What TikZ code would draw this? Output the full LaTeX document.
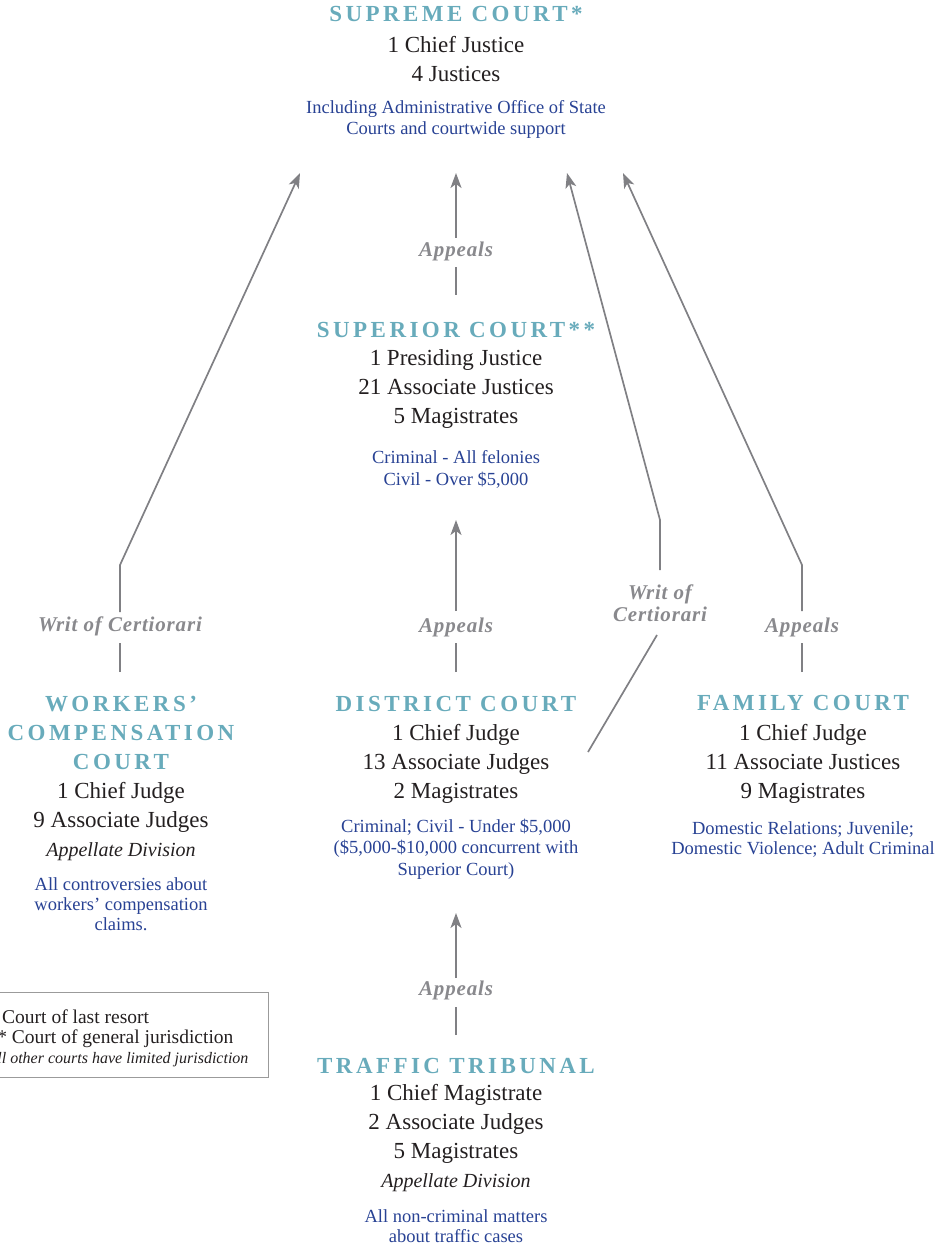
\documentclass[tikz,border=0pt]{standalone}
\usepackage{fontspec}
\setmainfont{Liberation Serif}
\newfontfamily\titlefont{Liberation Serif}[LetterSpace=15]
\newfontfamily\labfont{Liberation Serif}[LetterSpace=4]
\usetikzlibrary{arrows.meta}
\definecolor{courtteal}{RGB}{104,171,187}
\definecolor{courtblue}{RGB}{40,66,148}
\definecolor{labgray}{RGB}{137,137,141}
\definecolor{linegray}{RGB}{128,128,132}
\definecolor{inkblack}{RGB}{35,31,32}
\definecolor{legendgray}{RGB}{155,155,155}
\begin{document}
\begin{tikzpicture}[x=1pt,y=-1pt,
  ttl/.style={anchor=base, align=center, inner sep=0pt, text=courtteal,
    font=\titlefont\bfseries\fontsize{23}{29}\selectfont},
  staff/.style={anchor=base, align=center, inner sep=0pt, text=inkblack,
    font=\fontsize{23}{29}\selectfont},
  desc/.style={anchor=base, align=center, inner sep=0pt, text=courtblue,
    font=\fontsize{18.5}{21}\selectfont},
  lab/.style={anchor=base, align=center, inner sep=0pt, text=labgray,
    font=\labfont\bfseries\itshape\fontsize{21}{22}\selectfont},
  conn/.style={draw=linegray, line width=1.7pt, line join=round},
  arr/.style={conn, -{Stealth[length=15pt,width=11pt,inset=4pt]}},
  legbox/.style={draw=legendgray, line width=1pt, inner sep=0pt},
  legtext/.style={anchor=base west, align=left, inner sep=0pt, text=inkblack,
    font=\fontsize{19.5}{20}\selectfont},
]
\useasboundingbox (0,0) rectangle (948,1246);
\clip (0,0) rectangle (948,1246);

% (anchor=base of a multi-line node is the baseline of its last line)

% ---------- Supreme Court ----------
\node[ttl]   (supT) at (456,22)  {SUPREME COURT*};
\node[staff] (supS) at (456,82)  {1 Chief Justice\\4 Justices};
\node[desc]  (supD) at (456,135) {Including Administrative Office of State\\Courts and courtwide support};

% ---------- Superior Court ----------
\node[ttl]   (spT) at (456,337) {SUPERIOR COURT**};
\node[staff] (spS) at (456,423) {1 Presiding Justice\\21 Associate Justices\\5 Magistrates};
\node[desc, font=\fontsize{18.5}{22}\selectfont] (spD) at (456,485) {Criminal - All felonies\\Civil - Over \$5,000};

% ---------- Workers' Compensation Court ----------
\node[ttl]   (wcT) at (121,769) {WORKERS’\\COMPENSATION\\COURT};
\node[staff] (wcS) at (121,856) {1 Chief Judge\\9 Associate Judges\\{\itshape\fontsize{20}{28}\selectfont Appellate Division}};
\node[desc, font=\fontsize{18.5}{20}\selectfont] (wcD) at (121,930) {All controversies about\\workers’ compensation\\claims.};

% ---------- District Court ----------
\node[ttl]   (dcT) at (456,711) {DISTRICT COURT};
\node[staff] (dcS) at (456,798) {1 Chief Judge\\13 Associate Judges\\2 Magistrates};
\node[desc, font=\fontsize{18.5}{21.5}\selectfont] (dcD) at (456,875) {Criminal; Civil - Under \$5,000\\(\$5,000-\$10,000 concurrent with\\Superior Court)};

% ---------- Family Court ----------
\node[ttl]   (fcT) at (803,710) {FAMILY COURT};
\node[staff] (fcS) at (803,798) {1 Chief Judge\\11 Associate Justices\\9 Magistrates};
\node[desc, font=\fontsize{18.5}{20}\selectfont] (fcD) at (803,854) {Domestic Relations; Juvenile;\\Domestic Violence; Adult Criminal};

% ---------- Traffic Tribunal ----------
\node[ttl]   (ttT) at (456,1073) {TRAFFIC TRIBUNAL};
\node[staff] (ttS) at (456,1187) {1 Chief Magistrate\\2 Associate Judges\\5 Magistrates\\{\itshape\fontsize{20}{27}\selectfont Appellate Division}};
\node[desc, font=\fontsize{18.5}{20}\selectfont] (ttD) at (456,1242) {All non-criminal matters\\about traffic cases};

% ---------- Legend ----------
\node[legbox, minimum width=298pt, minimum height=85pt, anchor=north west] (leg) at (-30,992) {};
\node[legtext] (legT) at (-12.6,1063) {* Court of last resort\\** Court of general jurisdiction\\{\itshape\fontsize{16}{20}\selectfont All other courts have limited jurisdiction}};

% ---------- Connector labels ----------
\node[lab] (ap1) at (456,257) {Appeals};
\node[lab] (wl)  at (120,631) {Writ of Certiorari};
\node[lab] (rl)  at (660,621) {Writ of\\Certiorari};
\node[lab] (fl)  at (802,632) {Appeals};
\node[lab] (dl)  at (456,632) {Appeals};
\node[lab] (tl)  at (456,995) {Appeals};

% ---------- Connector points ----------
\coordinate (a1b) at (456,295);  \coordinate (a1a) at (456,267);
\coordinate (a1c) at (456,238);  \coordinate (a1t) at (456,173);
\coordinate (w0) at (120,672);   \coordinate (w1) at (120,643);
\coordinate (w2) at (120,612);   \coordinate (wk) at (120,565);
\coordinate (wt) at (300,173);
\coordinate (r0) at (588,752);   \coordinate (r1) at (657,635);
\coordinate (r2) at (660,570);   \coordinate (rk) at (660,520);
\coordinate (rt) at (567,173);
\coordinate (f0) at (802,672);   \coordinate (f1) at (802,643);
\coordinate (f2) at (802,611);   \coordinate (fk) at (802,565);
\coordinate (ft) at (623,173);
\coordinate (d0) at (456,672);   \coordinate (d1) at (456,643);
\coordinate (d2) at (456,611);   \coordinate (dt) at (456,520);
\coordinate (t0) at (456,1035);  \coordinate (t1) at (456,1007);
\coordinate (t2) at (456,978);   \coordinate (tt) at (456,913);

% ---------- Connectors ----------
\draw[conn] (a1b) -- (a1a);
\draw[arr]  (a1c) -- (a1t);
\draw[conn] (w0) -- (w1);
\draw[arr]  (w2) -- (wk) -- (wt);
\draw[conn] (r0) -- (r1);
\draw[arr]  (r2) -- (rk) -- (rt);
\draw[conn] (f0) -- (f1);
\draw[arr]  (f2) -- (fk) -- (ft);
\draw[conn] (d0) -- (d1);
\draw[arr]  (d2) -- (dt);
\draw[conn] (t0) -- (t1);
\draw[arr]  (t2) -- (tt);
\end{tikzpicture}
\end{document}
